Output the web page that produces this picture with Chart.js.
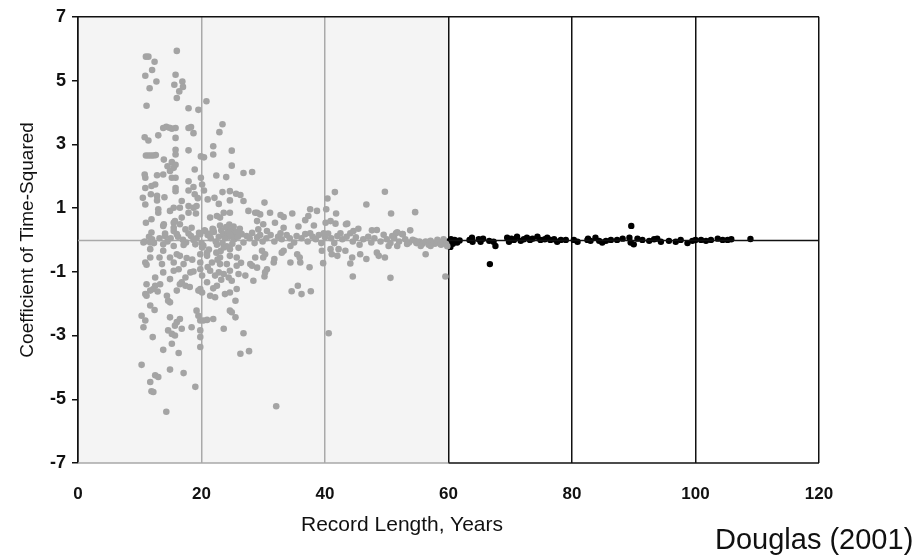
<!DOCTYPE html>
<html>
<head>
<meta charset="utf-8">
<script src="https://cdn.jsdelivr.net/npm/chart.js@4.4.1/dist/chart.umd.min.js"></script>
<style>
  body { margin: 0; background: #fff; }
  #wrap { position: relative; width: 923px; height: 558px; }
  #c { position: absolute; left: 0; top: 0; }
  .txt { position: absolute; font-family: 'Liberation Sans', Arial, sans-serif; color: #111; white-space: nowrap; }
  #xTitle { left: 402px; top: 512px; font-size: 21px; line-height: 24px; transform: translateX(-50%); }
  #source { left: 715px; top: 523px; font-size: 29px; line-height: 32px; }
</style>
</head>
<body>
<div id="wrap">
  <canvas id="c" width="923" height="558"></canvas>
  <div class="txt" id="xTitle">Record Length, Years</div>
  <div class="txt" id="source">Douglas (2001)</div>
</div>
<script>
/* Coefficient of time-squared vs record length — Douglas (2001) */

// axis ticks
const xTicks = [0, 20, 40, 60, 80, 100, 120];
const yTicks = [-7, -5, -3, -1, 1, 3, 5, 7];
const SHADE_END = 60; // gray panel: records shorter than 60 years

// short records (gray), positive coefficients, roughly 10–30 years
const shortUpper = [
  [11.0,5.75],[11.4,5.75],[16.0,5.93],[12.4,5.59],[12.0,5.33],[10.9,5.15],[15.8,5.18],[12.7,4.97],
  [15.6,4.87],[16.9,4.97],[17.0,4.80],[11.6,4.76],[16.4,4.66],[16.0,4.45],[20.8,4.35],[11.1,4.21],
  [17.9,4.13],[19.5,4.08],[13.8,3.51],[14.3,3.55],[14.8,3.52],[15.2,3.49],[15.8,3.51],[17.9,3.51],
  [18.3,3.54],[18.7,3.35],[13.0,3.28],[10.8,3.22],[11.4,3.12],[15.8,3.20],[15.8,2.83],[15.8,2.68],
  [17.9,2.81],[21.9,2.94],[22.9,3.38],[23.4,3.63],[24.9,2.80],[21.9,2.68],[11.0,2.65],[11.4,2.65],
  [11.8,2.65],[12.2,2.65],[12.6,2.66],[19.9,2.62],[20.4,2.59],[13.9,2.52],[15.2,2.44],[15.8,2.36],
  [14.5,2.31],[15.5,2.26],[18.9,2.21],[24.9,2.33],[10.8,2.05],[10.9,1.95],[12.8,2.03],[13.8,2.05],
  [14.9,2.16],[15.2,1.95],[15.8,1.95],[17.9,1.84],[19.9,1.95],[20.1,1.74],[22.4,2.02],[24.0,1.97],
  [26.8,2.10],[28.2,2.13],[10.9,1.63],[11.9,1.69],[12.5,1.74],[11.8,1.43],[12.8,1.38],[12.8,1.24],
  [14.0,1.34],[15.8,1.63],[15.8,1.53],[17.9,1.55],[18.7,1.66],[18.9,1.43],[19.4,1.31],[20.4,1.55],
  [23.4,1.50],[24.6,1.53],[25.6,1.45],[26.3,1.41],[10.5,1.32],[10.9,1.11],[13.0,0.96],[13.0,0.85],
  [14.9,0.91],[15.5,1.01],[16.8,1.22],[16.5,1.01],[17.9,1.06],[18.7,1.01],[19.2,1.06],[21.0,1.27],
  [22.1,1.32],[22.8,1.13],[24.6,1.24],[26.8,1.22],[27.6,0.91],[29.0,0.85],[11.0,0.54],[11.9,0.65],
  [13.9,0.49],[15.5,0.54],[16.5,0.49],[17.9,0.85],[19.1,0.83],[21.4,0.70],[22.5,0.75],[23.0,0.70],
  [23.6,0.85],[24.6,0.85],[11.9,0.23],[14.1,0.20],[15.5,0.28],[17.4,0.33],[18.4,0.38],[13.8,0.44],
  [14.1,0.12],[15.5,0.38],[15.7,0.59],[16.8,0.70],[20.6,0.28],[21.9,0.33],[23.0,0.45],[24.5,0.48],
  [25.2,0.42],[16.0,0.18],[17.9,0.20],[19.8,0.18],[21.4,0.20],[24.6,0.18],[26.3,0.20]
];

// short records (gray), negative coefficients, roughly 10–30 years
const shortLower = [
  [10.6,-0.08],[11.7,-0.08],[13.8,-0.14],[15.5,-0.19],[17.1,-0.16],[19.0,-0.14],[20.1,-0.24],
  [11.7,-0.29],[13.8,-0.34],[16.0,-0.45],[19.8,-0.45],[20.9,-0.40],[23.6,-0.24],[24.6,-0.29],
  [11.7,-0.55],[14.9,-0.55],[16.5,-0.50],[17.6,-0.57],[20.9,-0.50],[23.0,-0.55],[24.6,-0.50],[25.7,-0.55],
  [10.9,-0.71],[11.1,-0.78],[13.6,-0.76],[15.5,-0.71],[17.1,-0.76],[19.8,-0.71],[21.7,-0.71],[23.0,-0.76],
  [24.1,-0.76],[25.7,-0.81],[27.9,-0.76],[28.7,-0.55],[13.8,-1.02],[15.5,-0.97],[16.3,-0.92],[18.2,-1.02],
  [18.7,-0.99],[19.8,-0.92],[21.4,-0.97],[22.8,-1.02],[23.6,-1.07],[24.6,-0.97],[26.0,-1.07],[27.1,-1.12],
  [12.5,-1.18],[14.9,-1.23],[17.4,-1.18],[20.1,-1.12],[22.2,-1.12],[24.4,-1.18],[11.1,-1.39],[12.5,-1.44],
  [13.3,-1.39],[16.5,-1.39],[16.8,-1.33],[17.4,-1.44],[20.9,-1.33],[22.5,-1.44],[24.9,-1.28],[11.7,-1.59],
  [12.2,-1.54],[16.0,-1.59],[19.8,-1.54],[20.1,-1.65],[23.8,-1.70],[24.6,-1.65],[25.7,-1.54],[10.9,-1.70],
  [11.1,-1.75],[14.4,-1.75],[19.5,-1.59],[21.4,-1.75],[22.2,-1.80],[14.6,-1.91],[14.9,-1.96],[25.5,-1.91],
  [11.7,-2.06],[24.6,-2.22],[24.9,-2.27],[25.5,-2.43],[10.3,-2.38],[10.9,-2.53],[19.2,-2.22],[19.5,-2.38],
  [14.9,-2.43],[16.5,-2.48],[10.6,-2.74],[16.0,-2.58],[15.7,-2.69],[16.8,-2.79],[18.4,-2.74],[19.8,-2.53],
  [21.9,-2.48],[20.3,-2.53],[20.9,-2.51],[23.6,-2.79],[14.6,-2.84],[15.2,-2.95],[15.7,-3.00],[19.8,-2.84],
  [19.8,-3.05],[12.1,-3.05],[26.8,-2.93],[15.2,-3.26],[19.8,-3.36],[13.8,-3.45],[16.3,-3.55],[26.3,-3.57],
  [27.7,-3.49],[10.3,-3.92],[14.9,-4.07],[17.1,-4.18],[12.5,-4.25],[13.0,-4.30],[11.7,-4.46],[11.9,-4.75],
  [12.2,-4.77],[19.0,-4.61],[14.3,-5.39],[32.1,-5.22],[12.4,-2.2],[13.2,-0.55],[18.5,-0.62],[21.0,-0.85],
  [22.6,-0.62],[26.4,-0.72],[12.9,-1.62],[18.1,-1.48],[21.9,-1.52],[23.2,-1.25]
];

// records of about 28–60 years (gray)
const midRecords = [
  [30.2,1.17],[31.1,0.85],[29.5,0.80],[28.7,0.85],[32.8,0.78],[33.3,0.72],[34.7,0.83],[37.3,0.75],
  [37.6,0.96],[38.7,0.91],[40.2,0.96],[41.8,0.83],[41.6,1.50],[40.4,1.30],[46.7,1.11],[49.7,1.51],
  [50.7,0.83],[54.6,0.87],[29.0,0.59],[30.0,0.49],[29.2,0.33],[30.6,0.28],[31.9,0.54],[33.3,0.38],
  [35.7,0.42],[41.7,0.51],[43.4,0.49],[40.1,0.54],[40.9,0.59],[43.6,0.51],[44.6,0.28],[47.6,0.30],
  [48.4,0.31],[49.5,0.16],[51.5,0.21],[52.6,0.18],[50.9,0.12],[32.8,0.21],[37.6,0.21],[39.8,0.21],
  [42.5,0.21],[44.1,0.21],[51.7,0.24],[28.4,-1.28],[30.2,-1.15],[40.6,-2.93],[34.6,-1.61],[35.6,-1.44],
  [36.2,-1.70],[37.7,-1.61],[44.5,-1.15],[50.6,-1.19],[59.5,-1.15],[39.7,-0.73],[37.5,-0.86],[34.4,-0.71],
  [36.0,-0.71],[35.9,-0.55],[35.5,-0.45],[31.7,-0.71],[31.8,-0.60],[30.6,-0.92],[30.3,-1.02],[29.0,-0.87],
  [28.2,-0.81],[30.0,-0.55],[30.3,-0.45],[29.8,-0.34],[33.3,-0.34],[33.0,-0.40],[34.4,-0.19],[42.0,-0.50],
  [44.1,-0.74],[44.4,-0.55],[45.7,-0.45],[46.7,-0.60],[48.4,-0.40],[48.7,-0.50],[49.7,-0.55],[56.3,-0.45],
  [39.5,-0.34],[40.9,-0.29],[42.2,-0.29],[43.3,-0.34],[41.1,-0.45],[50.3,-0.19],[51.7,-0.19],[53.3,-0.13],
  [55.5,-0.19],[57.1,-0.19],[58.7,-0.13],[36.8,0.62],[38.2,0.45],[45.4,0.35],[53.8,0.30]
];

// dense band of gray points hugging the zero line
const nearZero = [
  [10.8,-0.05],[11.5,0.10],[12.3,-0.10],[13.2,0.05],[14.5,-0.05],[16.2,0.10],[17.5,-0.08],[18.3,0.12],
  [19.2,0.05],[20.0,-0.10],[20.5,0.30],[21.2,-0.30],[21.8,0.35],[22.4,-0.40],[23.1,-0.35],[21.0,0.15],
  [21.5,0.05],[22.0,0.25],[22.3,-0.05],[22.8,0.10],[23.2,0.30],[23.5,0.18],[23.8,0.05],[24.0,0.40],
  [24.2,0.22],[24.5,0.10],[24.8,0.30],[25.0,0.15],[25.3,0.02],[25.6,0.25],[25.9,0.10],[26.2,0.35],
  [26.5,0.18],[22.5,-0.15],[23.4,-0.10],[24.1,-0.20],[25.0,-0.12],[26.0,-0.25],[26.8,-0.08],[27.3,0.12],
  [27.8,0.05],[28.2,0.22],[28.6,-0.10],[29.0,0.08],[29.5,0.15],[29.9,-0.05],[30.5,0.05],[31.2,0.15],
  [31.8,-0.05],[32.4,0.10],[33.0,0.02],[33.8,0.15],[34.3,0.05],[35.0,-0.08],[35.4,0.12],[36.2,0.05],
  [36.8,0.18],[37.2,-0.05],[38.0,0.10],[38.5,0.02],[39.0,0.15],[39.4,-0.10],[40.0,0.08],[40.5,0.20],
  [41.0,0.05],[41.5,-0.10],[42.0,0.12],[42.8,0.02],[43.5,0.10],[44.5,-0.05],[45.0,0.08],[45.6,-0.15],
  [46.2,0.02],[47.0,0.10],[47.5,-0.08],[48.0,0.05],[49.0,-0.05],[50.0,0.02],[50.6,-0.10],[51.2,0.05],
  [52.0,-0.05],[53.0,0.02],[53.6,-0.08],[54.2,0.00],[54.8,-0.10],[55.3,-0.05],[55.8,-0.12],[56.3,-0.05],
  [56.8,-0.15],[57.3,-0.08],[57.8,-0.12],[58.3,-0.05],[58.8,-0.15],[59.2,-0.08],[59.6,-0.12],[59.8,-0.20],
  [52.5,0.18],[54.6,-0.03],[57.1,-0.03],[58.2,0.00],[59.2,0.02],[12.0,0.02],[15.0,0.05],[17.0,0.00],
  [18.7,0.00],[19.6,0.22],[20.3,-0.18]
];

// records of 60 years and longer (black)
const longRecords = [
  [60.0,-0.05],[60.1,-0.18],[60.3,-0.22],[60.4,0.02],[60.7,-0.12],[61.0,0.00],[61.4,-0.08],[61.8,-0.02],
  [63.4,0.00],[63.8,0.07],[63.9,-0.06],[64.9,0.02],[65.2,-0.06],[65.6,0.04],[66.6,-0.03],[67.3,-0.06],
  [67.6,-0.19],[66.7,-0.76],[69.5,0.07],[69.8,-0.06],[70.2,0.04],[70.6,0.00],[71.1,0.10],[71.7,-0.03],
  [72.2,0.02],[72.7,0.07],[73.2,0.00],[73.6,0.04],[74.4,0.10],[74.9,0.00],[75.6,0.02],[76.0,0.07],
  [76.5,0.00],[77.1,0.02],[77.6,-0.06],[78.2,0.00],[79.0,0.00],[80.3,0.00],[80.9,-0.06],[82.5,0.00],
  [82.6,0.04],[83.0,-0.03],[83.8,0.07],[84.4,-0.03],[84.9,-0.08],[85.5,-0.03],[86.3,0.00],[87.3,0.00],
  [88.2,0.04],[89.3,0.07],[89.5,-0.08],[90.0,-0.14],[89.6,0.44],[90.6,0.04],[91.4,0.00],[92.5,-0.03],
  [93.3,0.02],[93.8,0.04],[94.4,-0.06],[95.7,-0.03],[96.8,-0.06],[97.6,0.00],[98.7,-0.10],[99.5,-0.03],
  [100.0,0.00],[100.9,0.00],[101.7,-0.03],[102.5,0.00],[103.6,0.04],[104.4,0.00],[105.2,0.00],[105.8,0.02],
  [108.9,0.03]
];

const GRAY_PT = '#a4a4a4';
const GRAY_LINE = '#a9a9a9';
const SHADE = '#f4f4f4';
const INK = '#111';

const toPts = rows => rows.map(([x, y]) => ({ x, y }));
const grayPts = [...nearZero, ...shortUpper, ...shortLower, ...midRecords];

// gray panel, zero line and frame pieces, placed through the scales
const panelPlugin = {
  id: 'panel',
  beforeDraw(chart) {
    const { ctx, chartArea: a, scales: { x } } = chart;
    const xs = x.getPixelForValue(SHADE_END);
    ctx.save();
    ctx.fillStyle = SHADE;
    ctx.fillRect(a.left, a.top, xs - a.left, a.bottom - a.top);
    ctx.restore();
  },
  beforeDatasetsDraw(chart) {
    const { ctx, chartArea: a, scales: { x, y } } = chart;
    const xs = x.getPixelForValue(SHADE_END);
    const y0 = Math.round(y.getPixelForValue(0)) + 0.5;
    const seg = (x1, y1, x2, y2, color, w) => {
      ctx.beginPath();
      ctx.strokeStyle = color;
      ctx.lineWidth = w;
      ctx.moveTo(x1, y1);
      ctx.lineTo(x2, y2);
      ctx.stroke();
    };
    ctx.save();
    seg(a.left, y0, xs, y0, GRAY_LINE, 1.5);
    seg(a.left, a.top, a.right, a.top, INK, 1.5);
    seg(a.left, a.bottom, xs, a.bottom, GRAY_LINE, 1.5);
    seg(xs, a.bottom, a.right, a.bottom, INK, 1.5);
    ctx.restore();
  },
  afterDatasetsDraw(chart) {
    const { ctx, chartArea: a, scales: { x, y } } = chart;
    const xs = x.getPixelForValue(SHADE_END);
    const y0 = Math.round(y.getPixelForValue(0)) + 0.5;
    ctx.save();
    ctx.beginPath();
    ctx.strokeStyle = INK;
    ctx.lineWidth = 1.5;
    ctx.moveTo(xs, y0);
    ctx.lineTo(a.right, y0);
    ctx.stroke();
    ctx.restore();
  }
};

new Chart(document.getElementById('c'), {
  type: 'scatter',
  data: {
    datasets: [
      { label: 'shorter than 60 years', data: toPts(grayPts), backgroundColor: GRAY_PT, borderWidth: 0, pointRadius: 3.3 },
      { label: '60 years or longer', data: toPts(longRecords), backgroundColor: '#000', borderWidth: 0, pointRadius: 3.2 }
    ]
  },
  options: {
    responsive: false,
    animation: false,
    events: [],
    layout: { padding: { left: 0, top: 1, right: 104, bottom: 0 } },
    plugins: { legend: { display: false }, tooltip: { enabled: false } },
    scales: {
      x: {
        type: 'linear',
        min: xTicks[0],
        max: xTicks[xTicks.length - 1],
        afterBuildTicks: s => { s.ticks = xTicks.map(v => ({ value: v })); },
        afterFit: s => { s.height = 95; },
        border: { display: false },
        grid: {
          drawTicks: false,
          lineWidth: 1.5,
          color: c => (c.tick && c.tick.value > 0 && c.tick.value < SHADE_END) ? GRAY_LINE : INK
        },
        ticks: {
          padding: 21,
          color: INK,
          font: { family: "'Liberation Sans', Arial, sans-serif", size: 17, weight: 'bold' }
        }
      },
      y: {
        type: 'linear',
        min: yTicks[0],
        max: yTicks[yTicks.length - 1],
        afterBuildTicks: s => { s.ticks = yTicks.map(v => ({ value: v })); },
        afterFit: s => { s.width = 78; },
        border: { display: true, color: INK, width: 1.5 },
        grid: { drawOnChartArea: false, drawTicks: true, tickLength: 6, color: INK, lineWidth: 1.5 },
        ticks: {
          padding: 6,
          color: INK,
          font: { family: "'Liberation Sans', Arial, sans-serif", size: 18, weight: 'bold' }
        },
        title: {
          display: true,
          text: 'Coefficient of Time-Squared',
          color: INK,
          padding: { top: 16, bottom: 0 },
          font: { family: "'Liberation Sans', Arial, sans-serif", size: 19 }
        }
      }
    }
  },
  plugins: [panelPlugin]
});
</script>
</body>
</html>
